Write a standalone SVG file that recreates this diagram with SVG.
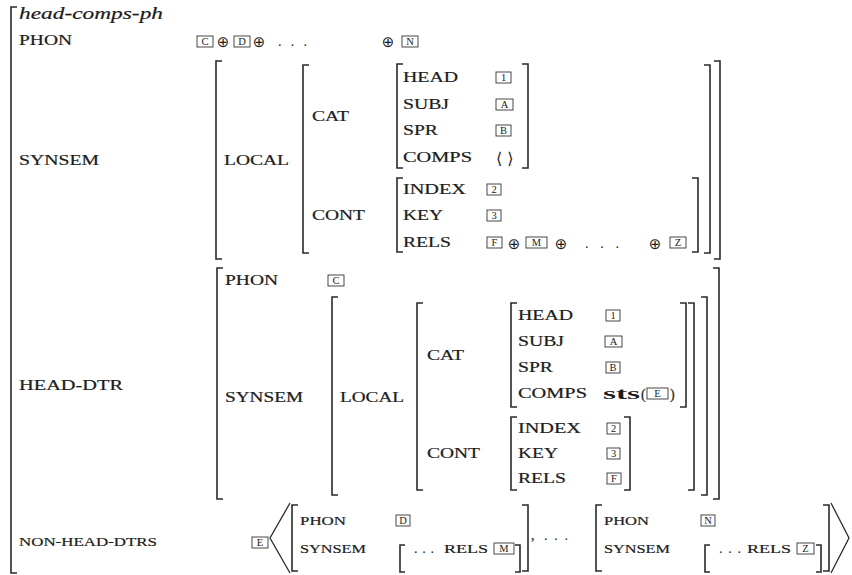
<svg xmlns="http://www.w3.org/2000/svg" width="852" height="575" viewBox="0 0 852 575">
<style>
  text{font-family:"Liberation Serif","Times New Roman",serif;fill:#1c1c1c}
  .a{font-size:14px;stroke:#1c1c1c;stroke-width:0.2}
  .s{font-size:13.5px;stroke:#1c1c1c;stroke-width:0.2}
  .it{font-size:17px;font-style:italic;stroke:#1c1c1c;stroke-width:0.2}
  .br{fill:none;stroke:#2a2a2a;stroke-width:1.6}
  .ang{fill:none;stroke:#2a2a2a;stroke-width:1.3}
  .tg rect{fill:#fff;stroke:#333;stroke-width:0.9}
  .tg text{font-size:10.5px;text-anchor:middle}
  .op{font-family:"DejaVu Sans",sans-serif;font-size:15px;text-anchor:middle}
  .ab{font-family:"DejaVu Sans",sans-serif;font-size:16px}
  .dots{font-size:14px}
  .sts{font-size:17px;font-weight:bold}
</style>
<rect width="852" height="575" fill="#fff"/>

<!-- outer structure: head-comps-ph -->
<g id="outer">
  <path class="br" d="M17 7H11V573H17"/>
  <text class="it" x="19" y="19" textLength="144" lengthAdjust="spacingAndGlyphs">head-comps-ph</text>
</g>

<!-- PHON of the phrase -->
<g id="phon">
  <text class="a" x="19" y="45" textLength="53" lengthAdjust="spacingAndGlyphs">PHON</text>
  <g class="tg"><rect x="197" y="36" width="16" height="11"/><text x="205" y="45">C</text></g>
  <text class="op" x="223" y="47">⊕</text>
  <g class="tg"><rect x="234" y="36" width="16" height="11"/><text x="242" y="45">D</text></g>
  <text class="op" x="259" y="47">⊕</text>
  <text class="dots" x="278" y="46" textLength="29">...</text>
  <text class="op" x="388" y="47">⊕</text>
  <g class="tg"><rect x="402" y="36" width="16" height="11"/><text x="410" y="45">N</text></g>
</g>

<!-- SYNSEM of the phrase -->
<g id="synsem">
  <text class="a" x="19" y="165" textLength="80" lengthAdjust="spacingAndGlyphs">SYNSEM</text>
  <path class="br" d="M222 61H216V259H222"/>
  <path class="br" d="M714 61H720V259H714"/>
  <text class="a" x="224" y="165" textLength="65" lengthAdjust="spacingAndGlyphs">LOCAL</text>
  <path class="br" d="M309 65H303V253H309"/>
  <path class="br" d="M704 65H710V253H704"/>
  <text class="a" x="312" y="121" textLength="37" lengthAdjust="spacingAndGlyphs">CAT</text>
  <text class="a" x="312" y="220" textLength="53" lengthAdjust="spacingAndGlyphs">CONT</text>
  <path class="br" d="M403 64H397V168H403"/>
  <path class="br" d="M522 64H528V168H522"/>
  <text class="a" x="403" y="82" textLength="55" lengthAdjust="spacingAndGlyphs">HEAD</text>
  <text class="a" x="403" y="109" textLength="46" lengthAdjust="spacingAndGlyphs">SUBJ</text>
  <text class="a" x="403" y="135" textLength="35" lengthAdjust="spacingAndGlyphs">SPR</text>
  <text class="a" x="403" y="162" textLength="69" lengthAdjust="spacingAndGlyphs">COMPS</text>
  <g class="tg"><rect x="496" y="72" width="15" height="11"/><text x="503.5" y="81">1</text></g>
  <g class="tg"><rect x="496" y="99" width="17" height="11"/><text x="504.5" y="108">A</text></g>
  <g class="tg"><rect x="496" y="125" width="15" height="11"/><text x="503.5" y="134">B</text></g>
  <text class="ab" x="496" y="164">⟨ ⟩</text>
  <path class="br" d="M403 178H397V252H403"/>
  <path class="br" d="M692 178H698V252H692"/>
  <text class="a" x="403" y="194" textLength="63" lengthAdjust="spacingAndGlyphs">INDEX</text>
  <text class="a" x="403" y="220" textLength="40" lengthAdjust="spacingAndGlyphs">KEY</text>
  <text class="a" x="403" y="247" textLength="48" lengthAdjust="spacingAndGlyphs">RELS</text>
  <g class="tg"><rect x="487" y="184" width="14" height="11"/><text x="494" y="193">2</text></g>
  <g class="tg"><rect x="487" y="210" width="14" height="11"/><text x="494" y="219">3</text></g>
  <g class="tg"><rect x="487" y="237" width="15" height="11"/><text x="494.5" y="246">F</text></g>
  <text class="op" x="514" y="249">⊕</text>
  <g class="tg"><rect x="526" y="237" width="21" height="11"/><text x="536.5" y="246">M</text></g>
  <text class="op" x="561" y="249">⊕</text>
  <text class="dots" x="585" y="248" textLength="34">...</text>
  <text class="op" x="655" y="249">⊕</text>
  <g class="tg"><rect x="670" y="237" width="16" height="11"/><text x="678" y="246">Z</text></g>
</g>

<!-- HEAD-DTR -->
<g id="head-dtr">
  <text class="a" x="19" y="390" textLength="104" lengthAdjust="spacingAndGlyphs">HEAD-DTR</text>
  <path class="br" d="M223 268H217V499H223"/>
  <path class="br" d="M713 268H719V499H713"/>
  <text class="a" x="225" y="285" textLength="53" lengthAdjust="spacingAndGlyphs">PHON</text>
  <g class="tg"><rect x="328" y="275" width="16" height="11"/><text x="336" y="284">C</text></g>
  <text class="a" x="225" y="402" textLength="78" lengthAdjust="spacingAndGlyphs">SYNSEM</text>
  <path class="br" d="M338 297H332V495H338"/>
  <path class="br" d="M701 297H707V495H701"/>
  <text class="a" x="340" y="402" textLength="64" lengthAdjust="spacingAndGlyphs">LOCAL</text>
  <path class="br" d="M423 303H417V490H423"/>
  <path class="br" d="M688 303H694V490H688"/>
  <text class="a" x="427" y="360" textLength="37" lengthAdjust="spacingAndGlyphs">CAT</text>
  <text class="a" x="427" y="458" textLength="53" lengthAdjust="spacingAndGlyphs">CONT</text>
  <path class="br" d="M517 303H511V407H517"/>
  <path class="br" d="M680 303H686V407H680"/>
  <text class="a" x="518" y="320" textLength="55" lengthAdjust="spacingAndGlyphs">HEAD</text>
  <text class="a" x="518" y="346" textLength="46" lengthAdjust="spacingAndGlyphs">SUBJ</text>
  <text class="a" x="518" y="372" textLength="35" lengthAdjust="spacingAndGlyphs">SPR</text>
  <text class="a" x="518" y="398" textLength="69" lengthAdjust="spacingAndGlyphs">COMPS</text>
  <g class="tg"><rect x="606" y="310" width="14" height="11"/><text x="613" y="319">1</text></g>
  <g class="tg"><rect x="605" y="336" width="17" height="11"/><text x="613.5" y="345">A</text></g>
  <g class="tg"><rect x="606" y="362" width="14" height="11"/><text x="613" y="371">B</text></g>
  <text class="sts" x="603" y="399" textLength="37" lengthAdjust="spacingAndGlyphs">sts</text>
  <text class="a" x="641" y="399">(</text>
  <g class="tg"><rect x="647" y="388" width="21" height="11"/><text x="657.5" y="397">E</text></g>
  <text class="a" x="670" y="399">)</text>
  <path class="br" d="M517 417H511V490H517"/>
  <path class="br" d="M624 417H630V490H624"/>
  <text class="a" x="518" y="433" textLength="63" lengthAdjust="spacingAndGlyphs">INDEX</text>
  <text class="a" x="518" y="458" textLength="40" lengthAdjust="spacingAndGlyphs">KEY</text>
  <text class="a" x="518" y="483" textLength="48" lengthAdjust="spacingAndGlyphs">RELS</text>
  <g class="tg"><rect x="607" y="423" width="13" height="11"/><text x="613.5" y="432">2</text></g>
  <g class="tg"><rect x="607" y="448" width="13" height="11"/><text x="613.5" y="457">3</text></g>
  <g class="tg"><rect x="607" y="473" width="14" height="11"/><text x="614" y="482">F</text></g>
</g>

<!-- NON-HEAD-DTRS -->
<g id="non-head-dtrs">
  <text class="s" x="19" y="546" textLength="138" lengthAdjust="spacingAndGlyphs">NON-HEAD-DTRS</text>
  <g class="tg"><rect x="252" y="537" width="16" height="11"/><text x="260" y="546">E</text></g>
  <path class="ang" d="M290 503L270 538L290 573"/>
  <path class="br" d="M298 505H292V571H298"/>
  <text class="s" x="300" y="525" textLength="46" lengthAdjust="spacingAndGlyphs">PHON</text>
  <g class="tg"><rect x="396" y="515" width="14" height="11"/><text x="403" y="524">D</text></g>
  <text class="s" x="300" y="553" textLength="66" lengthAdjust="spacingAndGlyphs">SYNSEM</text>
  <path class="br" d="M405 545H400V572H405"/>
  <text class="dots" x="414" y="553" textLength="20">...</text>
  <text class="s" x="444" y="553" textLength="44" lengthAdjust="spacingAndGlyphs">RELS</text>
  <g class="tg"><rect x="494" y="543" width="20" height="11"/><text x="504" y="552">M</text></g>
  <path class="br" d="M515 545H520V572H515"/>
  <path class="br" d="M522 505H528V571H522"/>
  <text class="a" x="531" y="540">,</text>
  <text class="dots" x="544" y="540" textLength="24">...</text>
  <path class="br" d="M602 505H596V571H602"/>
  <text class="s" x="604" y="525" textLength="45" lengthAdjust="spacingAndGlyphs">PHON</text>
  <g class="tg"><rect x="701" y="515" width="14" height="11"/><text x="708" y="524">N</text></g>
  <text class="s" x="604" y="553" textLength="66" lengthAdjust="spacingAndGlyphs">SYNSEM</text>
  <path class="br" d="M710 545H705V572H710"/>
  <text class="dots" x="719" y="553" textLength="22">...</text>
  <text class="s" x="747" y="553" textLength="44" lengthAdjust="spacingAndGlyphs">RELS</text>
  <g class="tg"><rect x="797" y="543" width="17" height="11"/><text x="805.5" y="552">Z</text></g>
  <path class="br" d="M816 545H821V572H816"/>
  <path class="br" d="M823 505H829V571H823"/>
  <path class="ang" d="M831 503L849 538L831 573"/>
</g>
</svg>
